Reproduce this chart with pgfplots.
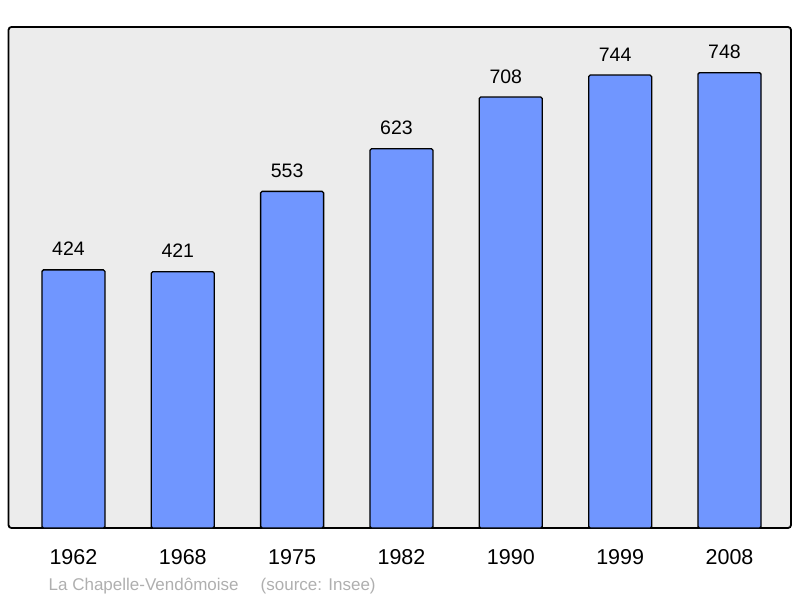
\documentclass[border=0pt]{standalone}
\usepackage{pgfplots}
\pgfplotsset{compat=1.18}
\usepackage{fontspec}
\setmainfont{Liberation Sans}
\definecolor{barblue}{RGB}{112,150,255}
\definecolor{plotbg}{RGB}{236,236,236}
\definecolor{footgray}{RGB}{175,175,175}

\begin{document}
\begin{tikzpicture}[x=1pt,y=1pt]
\useasboundingbox (0,0) rectangle (800,598);
\begin{axis}[
  at={(8.5pt,70pt)}, anchor=south west,
  scale only axis, width=782.5pt, height=501pt,
  xmin=-0.594, xmax=6.5625, ymin=0, ymax=823,
  axis line style={draw=none},
  axis background/.style={fill=plotbg, draw=black, line width=1.8pt, rounded corners=3pt},
  ybar, bar width=63pt,
  xtick=data,
  xticklabels={1962,1968,1975,1982,1990,1999,2008},
  major tick length=0pt,
  ytick=\empty,
  xticklabel style={font=\fontsize{21.5}{22}\selectfont, anchor=base, yshift=-36.5pt},
  /pgf/number format/assume math mode=true,
  nodes near coords,
  every node near coord/.append style={font=\fontsize{19.5}{20}\selectfont, anchor=base, xshift=-5pt, yshift=14pt, inner sep=0pt},
  clip=false,
]
\addplot[fill=barblue, draw=black, line width=1.3pt, rounded corners=1.5pt]
coordinates{(0,424) (1,421) (2,553) (3,623) (4,708) (5,744) (6,748)};
\end{axis}
\node[anchor=base west, inner sep=0pt, text=footgray, font=\fontsize{17}{18}\selectfont] at (48.5,7.3) {La Chapelle-Vendômoise};
\node[anchor=base west, inner sep=0pt, text=footgray, font=\fontsize{17}{18}\selectfont] at (260.5,7.3) {(source: Insee)};
\end{tikzpicture}
\end{document}
